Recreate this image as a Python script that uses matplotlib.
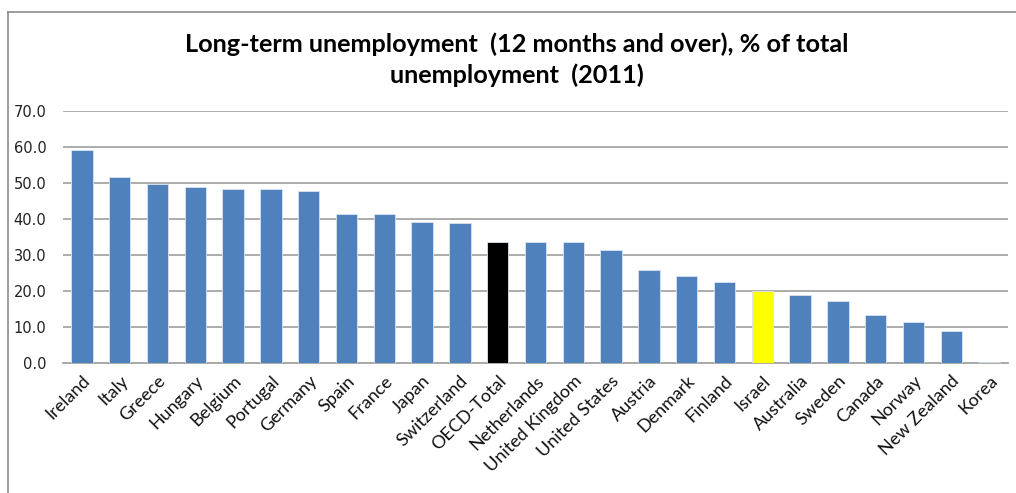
import matplotlib
matplotlib.use("Agg")
import matplotlib.pyplot as plt
from matplotlib.lines import Line2D

countries = ["Ireland", "Italy", "Greece", "Hungary", "Belgium", "Portugal", "Germany",
             "Spain", "France", "Japan", "Switzerland", "OECD-Total", "Netherlands",
             "United Kingdom", "United States", "Austria", "Denmark", "Finland", "Israel",
             "Australia", "Sweden", "Canada", "Norway", "New Zealand", "Korea"]
values = [59.1, 51.6, 49.6, 48.8, 48.2, 48.2, 47.8,
          41.3, 41.3, 39.1, 38.8, 33.5, 33.5,
          33.5, 31.4, 25.7, 24.3, 22.5, 20.0,
          19.0, 17.2, 13.3, 11.5, 9.0, 0.4]
highlight = {"OECD-Total": "#000000", "Israel": "#FFFF00"}
yticks = [0, 10, 20, 30, 40, 50, 60, 70]
title = "Long-term unemployment  (12 months and over), % of total\nunemployment  (2011)"

W, H = 1016, 493
fig = plt.figure(figsize=(W / 100, H / 100), dpi=100)
fig.patch.set_facecolor("white")
ax = fig.add_axes([63 / W, 1 - 363 / H, (1008 - 63) / W, (363 - 111) / H])

colors = [highlight.get(c, "#4F81BD") for c in countries]
x = list(range(len(countries)))
ax.bar(x, values, width=0.57, color=colors, edgecolor="#dbe5f1", linewidth=0.6, zorder=3)

ax.set_xlim(-0.5, len(countries) - 0.5)
ax.set_ylim(0, 70)
ax.set_yticks(yticks)
ax.set_yticklabels([f"{v:.1f}" for v in yticks], fontsize=10.5, color="#222222", family="DejaVu Sans")
ax.yaxis.grid(True, color="#a6a6a6", linewidth=1.3, zorder=0)
ax.set_axisbelow(True)
ax.tick_params(axis="y", length=0, pad=12)
ax.tick_params(axis="x", length=0, pad=7)
ax.set_xticks(x)
ax.set_xticklabels(countries, rotation=45, ha="right", va="top", rotation_mode="anchor",
                   fontsize=13, family="Lato", color="#111111")
for s in ["top", "right", "left"]:
    ax.spines[s].set_visible(False)
ax.spines["bottom"].set_color("#a6a6a6")
ax.spines["bottom"].set_linewidth(1.3)

fig.text(517 / W, 1 - 60 / H, title, ha="center", va="center", fontsize=18.2,
         fontweight="bold", family="Lato", linespacing=1.4, color="#000000")

# chart frame (top and left edges visible)
fig.add_artist(Line2D([8 / W, 8 / W], [0, 1 - 12 / H], transform=fig.transFigure,
                      color="#8c8c8c", linewidth=1.2))
fig.add_artist(Line2D([8 / W, 1], [1 - 12 / H, 1 - 12 / H], transform=fig.transFigure,
                      color="#8c8c8c", linewidth=1.2))

fig.savefig("out.png", dpi=100, facecolor="white")
